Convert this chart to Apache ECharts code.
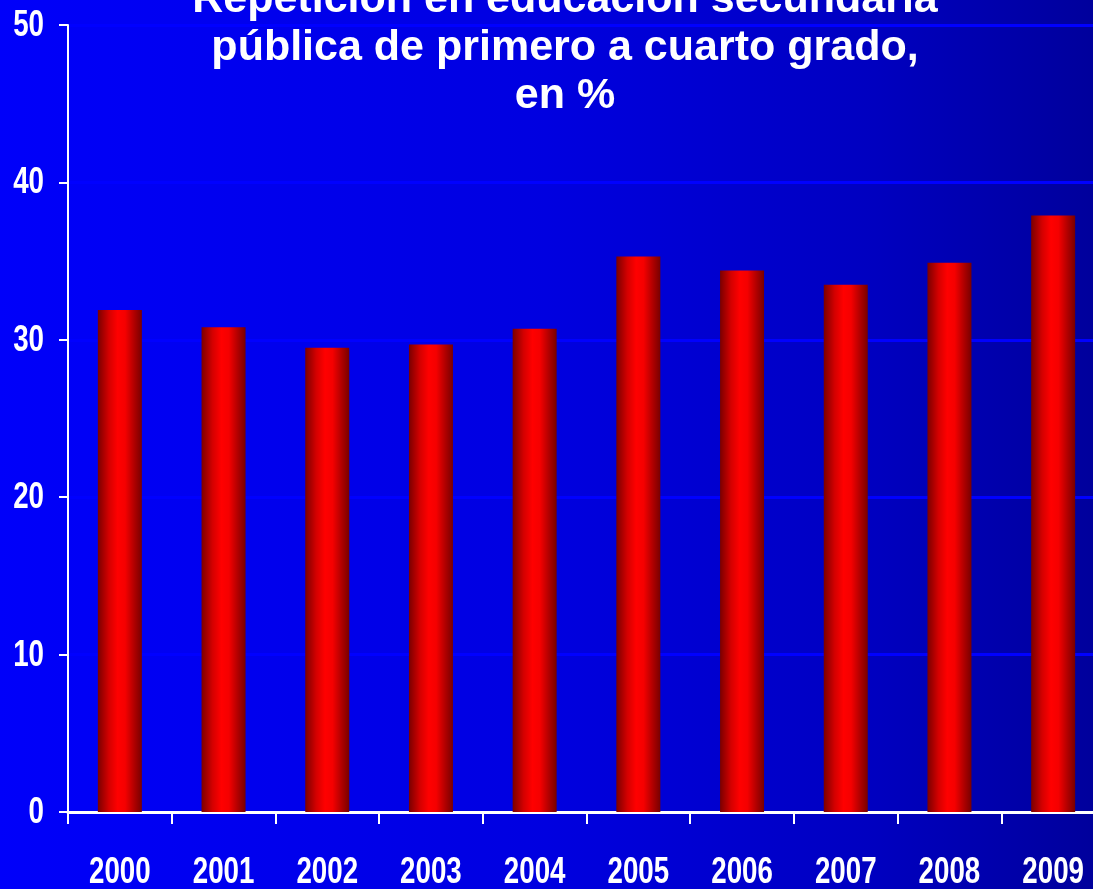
<!DOCTYPE html>
<html>
<head>
<meta charset="utf-8">
<script src="https://cdn.jsdelivr.net/npm/echarts@6/dist/echarts.min.js"></script>
<style>
  html, body { margin: 0; padding: 0; background: #0000f0; }
  #chart { width: 1093px; height: 889px; }
</style>
</head>
<body>
<div id="chart"></div>
<script>
// Años y porcentaje de repetición
const years = ['2000', '2001', '2002', '2003', '2004', '2005', '2006', '2007', '2008', '2009'];
const repetition = [31.9, 30.8, 29.5, 29.7, 30.7, 35.3, 34.4, 33.5, 34.9, 37.9];
const yTicks = [0, 10, 20, 30, 40, 50];

const labelFont = '"Liberation Sans", Arial, sans-serif';
// Tick labels are drawn narrow (condensed look)
const labelSize = 36;
const labelSqueeze = 0.77;

const chart = echarts.init(document.getElementById('chart'), null, { renderer: 'canvas' });

// Cylinder-like shading across each bar
const barFill = new echarts.graphic.LinearGradient(0, 0, 1, 0, [
  { offset: 0, color: '#7a0000' },
  { offset: 0.25, color: '#d40000' },
  { offset: 0.45, color: '#ff0000' },
  { offset: 0.62, color: '#f50000' },
  { offset: 0.85, color: '#a80000' },
  { offset: 1, color: '#780000' }
]);

chart.setOption({
  animation: false,
  backgroundColor: new echarts.graphic.LinearGradient(0, 0, 1, 0, [
    { offset: 0, color: '#0000fa' },
    { offset: 0.5, color: '#0000e0' },
    { offset: 0.8, color: '#0000c0' },
    { offset: 1, color: '#00009c' }
  ]),
  title: {
    text: 'Repetición en educación secundaria\npública de primero a cuarto grado,\nen %',
    left: 560,
    top: -29,
    textAlign: 'center',
    textStyle: {
      color: '#ffffff',
      fontFamily: labelFont,
      fontWeight: 'bold',
      fontSize: 43,
      lineHeight: 48
    }
  },
  grid: {
    left: 68,
    top: 25,
    width: 1037,
    bottom: 77,
    outerBoundsMode: 'none',
    containLabel: false
  },
  xAxis: {
    type: 'category',
    data: years,
    boundaryGap: true,
    axisLine: { show: true, lineStyle: { color: '#ffffff', width: 3 } },
    axisTick: { show: true, length: 12, lineStyle: { color: '#ffffff', width: 2 } },
    axisLabel: { show: false },
    splitLine: { show: false }
  },
  yAxis: {
    type: 'value',
    min: yTicks[0],
    max: yTicks[yTicks.length - 1],
    interval: 10,
    axisLine: { show: true, lineStyle: { color: '#ffffff', width: 2 } },
    axisTick: { show: true, length: 9, lineStyle: { color: '#ffffff', width: 2 } },
    axisLabel: { show: false },
    splitLine: { show: true, lineStyle: { color: '#0000ff', width: 3 } }
  },
  series: [{
    type: 'bar',
    data: repetition,
    barWidth: 44,
    itemStyle: { color: barFill }
  }]
});

// Tick labels placed from the axes' own scales, then squeezed horizontally
const labelStyle = (text, align) => ({
  text: text,
  x: 0,
  y: 0,
  fill: '#ffffff',
  font: 'bold ' + labelSize + 'px ' + labelFont,
  textAlign: align,
  textVerticalAlign: 'middle'
});

const tickLabels = [];
years.forEach((yr) => {
  const p = chart.convertToPixel({ xAxisIndex: 0, yAxisIndex: 0 }, [yr, 0]);
  tickLabels.push({
    type: 'text',
    x: p[0],
    y: p[1] + 61,
    scaleX: labelSqueeze,
    style: labelStyle(yr, 'center'),
    silent: true
  });
});
yTicks.forEach((v) => {
  const p = chart.convertToPixel({ xAxisIndex: 0, yAxisIndex: 0 }, [years[0], v]);
  tickLabels.push({
    type: 'text',
    x: 44,
    y: p[1] + 1,
    scaleX: labelSqueeze,
    style: labelStyle(String(v), 'right'),
    silent: true
  });
});
chart.setOption({ graphic: tickLabels });
</script>
</body>
</html>
